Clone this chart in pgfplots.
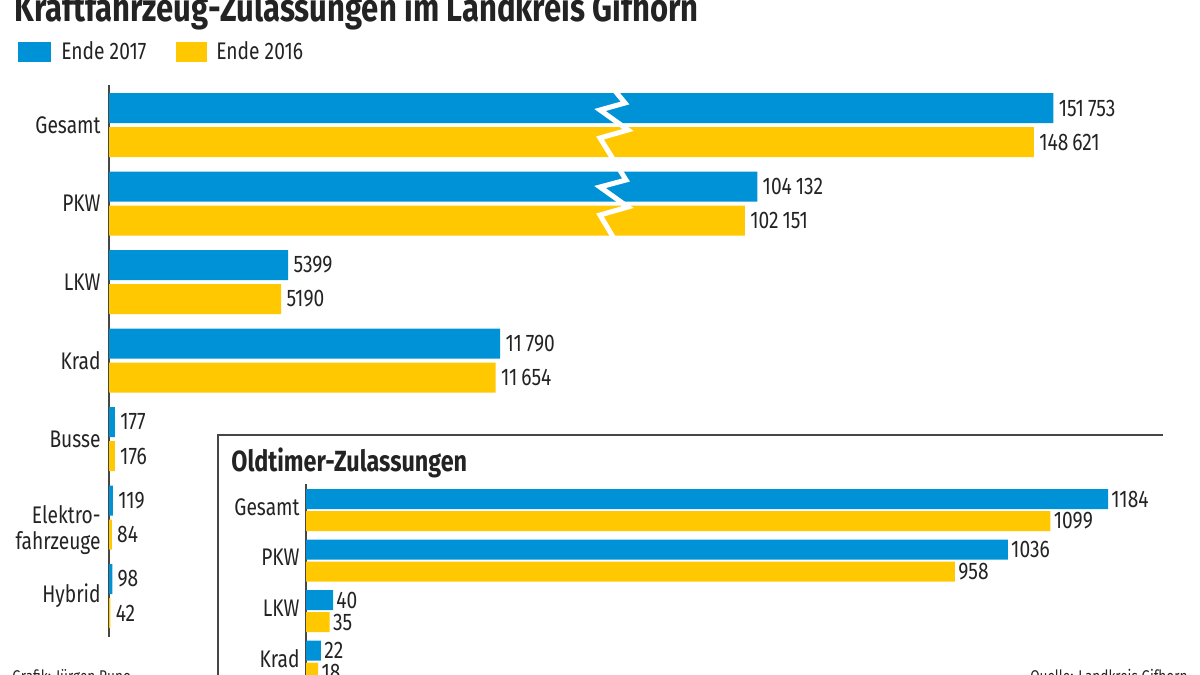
\documentclass[border=0pt]{standalone}
\usepackage{fontspec}
\setmainfont[FakeStretch=0.8]{Fira Sans}
\usepackage{pgfplots}
\pgfplotsset{compat=1.18}
\usepackage{pgfplotstable}
\definecolor{cblue}{RGB}{0,146,214}
\definecolor{cyellow}{RGB}{255,200,0}
\definecolor{axgray}{RGB}{70,70,70}
\definecolor{txt}{RGB}{35,35,35}
\newcommand\lbl{\fontsize{12}{13}\selectfont}

\pgfplotstableread{
y v
6 151753
5 104132
4 5399
3 11790
2 177
1 119
0 98
}\mainA
\pgfplotstableread{
y v
6 148621
5 102151
4 5190
3 11654
2 176
1 84
0 42
}\mainB
\pgfplotstableread{
y v
3 1184
2 1036
1 40
0 22
}\oldA
\pgfplotstableread{
y v
3 1099
2 958
1 35
0 18
}\oldB

\pgfplotsset{
  mybars/.style={
    axis x line=none, axis y line=left,
    y axis line style={-, draw=axgray, line width=1pt},
    major tick length=0pt,
    xbar, clip=false,
    point meta=explicit,
    nodes near coords,
    nodes near coords style={anchor=west, font=\lbl, text=txt, inner sep=0pt, xshift=2.5pt},
    yticklabel style={align=right, font=\lbl, text=txt, inner sep=0pt},
    /pgf/number format/fixed,
    /pgf/number format/precision=0,
    /pgf/number format/assume math mode=true,
    /pgf/number format/1000 sep={\,},
    /pgf/number format/min exponent for 1000 sep=4,
  }
}

\begin{document}
\begin{tikzpicture}
\path[use as bounding box] (0,0) rectangle (600pt,-337.5pt);
\clip (0,0) rectangle (600pt,-337.5pt);
\begin{scope}[x=0.5pt,y=-0.5pt]
  \coordinate (mainNW) at (109,85);
  \coordinate (oldNW) at (306,484);
  % title (cut at top like the reference)
  \node[anchor=base west, inner sep=0pt, text=txt, font=\bfseries\fontsize{19.4}{22}\selectfont] at (14,21) {Kraftfahrzeug-Zulassungen im Landkreis Gifhorn};
  % legend
  \fill[cblue] (18,42) rectangle (51,62);
  \node[anchor=base west, inner sep=0pt, text=txt, font=\lbl] at (61,59) {Ende 2017};
  \fill[cyellow] (176,42) rectangle (207,62);
  \node[anchor=base west, inner sep=0pt, text=txt, font=\lbl] at (216,59) {Ende 2016};
  % footer
  \node[anchor=base west, inner sep=0pt, text=txt, font=\fontsize{8.5}{10}\selectfont] at (12,682) {Grafik: Jürgen Runo};
  \node[anchor=base east, inner sep=0pt, text=txt, font=\fontsize{8.5}{10}\selectfont] at (1188,682) {Quelle: Landkreis Gifhorn};
\end{scope}

\begin{axis}[mybars,
  at={(mainNW)}, anchor=north west,
  x=0.01658pt, y=39.25pt,
  xmin=0, xmax=32000, ymin=-0.52, ymax=6.51,
  ytick={0,2,3,4,5,6},
  yticklabels={Hybrid,Busse,Krad,LKW,PKW,Gesamt},
  yticklabel style={xshift=-4pt},
  extra y ticks={1},
  extra y tick labels={{Elektro-\\fahrzeuge}},
  extra y tick style={yticklabel style={yshift=-6.5pt}},
  bar width=15pt,
  x filter/.expression={x>20000 ? 0.1874*x+24 : x},
]
\addplot[fill=cblue, draw=none, bar shift=8.5pt] table[x=v, y=y, meta=v] {\mainA};
\addplot[fill=cyellow, draw=none, bar shift=-8.5pt] table[x=v, y=y, meta=v] {\mainB};
\end{axis}

\begin{axis}[mybars,
  at={(oldNW)}, anchor=north west,
  x=0.3387pt, y=25.25pt,
  xmin=0, xmax=1300, ymin=-0.6, ymax=3.515,
  ytick={0,...,3},
  yticklabels={Krad,LKW,PKW,Gesamt},
  yticklabel style={xshift=-3pt, yshift=1.5pt},
  nodes near coords style={xshift=-1pt},
  bar width=10pt,
]
\addplot[fill=cblue, draw=none, bar shift=5.5pt] table[x=v, y=y, meta=v] {\oldA};
\addplot[fill=cyellow, draw=none, bar shift=-5.5pt] table[x=v, y=y, meta=v] {\oldB};
\end{axis}

\begin{scope}[x=0.5pt,y=-0.5pt]
  % axis break zigzag
  \draw[white, line width=2.5pt, line join=miter, miter limit=4]
    (611,86) -- (625,103) -- (600,110) -- (628,130) -- (600,138) -- (626,180)
    -- (600,187) -- (628,207) -- (600,215) -- (616,242);
  % inset frame
  \draw[axgray, line width=1pt] (218,690) -- (218,435) -- (1163,435);
  \node[anchor=base west, inner sep=0pt, text=txt, font=\bfseries\fontsize{14.6}{16}\selectfont] at (231,471) {Oldtimer-Zulassungen};
\end{scope}
\end{tikzpicture}
\end{document}
